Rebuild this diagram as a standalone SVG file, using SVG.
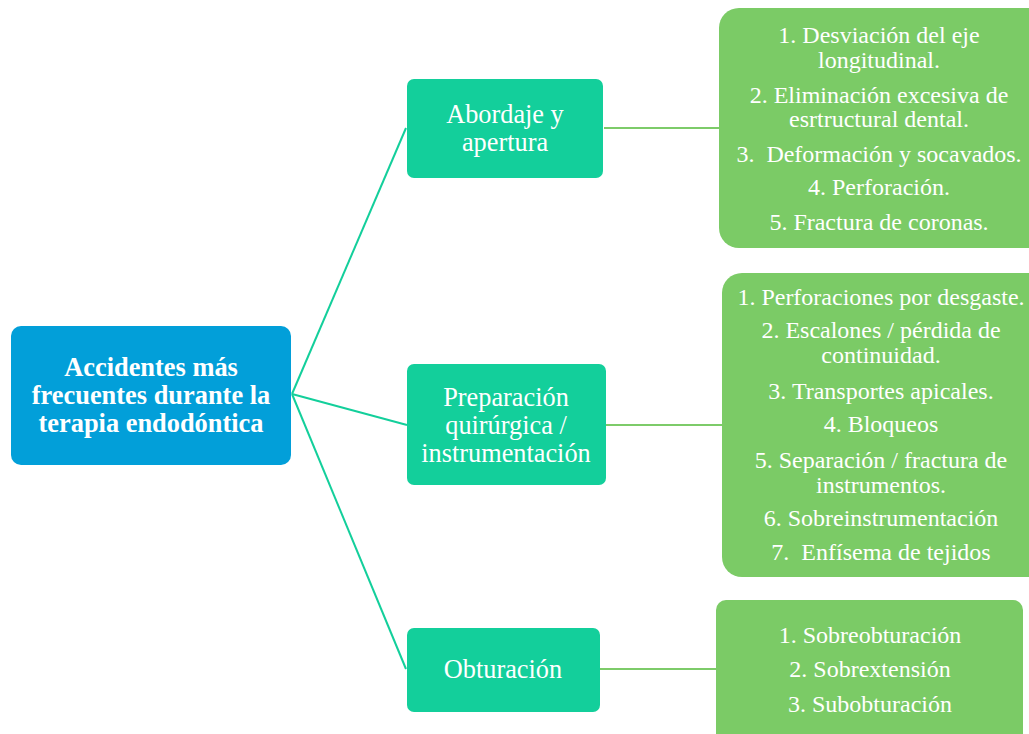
<svg xmlns="http://www.w3.org/2000/svg" width="1029" height="734" viewBox="0 0 1029 734">
<style>
.root{fill:#029FD9}
.mid{fill:#13CF9B}
.leaf{fill:#7BCB66}
.t{font-family:'Liberation Serif','DejaVu Serif',serif;fill:#fff;text-anchor:middle}
.tr{font-size:26.4px;font-weight:bold}
.tm{font-size:26.3px}
.tl{font-size:24px}
.c1{stroke:#13CF9B;stroke-width:2;fill:none}
.c2{stroke:#7DCB69;stroke-width:2;fill:none}
</style>
<rect width="1029" height="734" fill="#fff"/>
<g id="connectors">
<line class="c1" x1="292" y1="394" x2="406" y2="128"/>
<line class="c1" x1="292" y1="394" x2="407" y2="425"/>
<line class="c1" x1="292" y1="394" x2="406" y2="669"/>
<line class="c2" x1="604" y1="128" x2="719" y2="128"/>
<line class="c2" x1="606" y1="425" x2="722" y2="425"/>
<line class="c2" x1="600" y1="669" x2="716" y2="669"/>
</g>
<g id="root">
<rect class="root" x="11" y="326" width="280" height="139" rx="10"/>
<text class="t tr" x="151" y="376">Accidentes más</text>
<text class="t tr" x="151" y="404">frecuentes durante la</text>
<text class="t tr" x="151" y="432">terapia endodóntica</text>
</g>
<g id="n-abordaje">
<rect class="mid" x="407" y="79" width="196" height="99" rx="7"/>
<text class="t tm" x="505" y="123">Abordaje y</text>
<text class="t tm" x="505" y="151">apertura</text>
</g>
<g id="n-preparacion">
<rect class="mid" x="407" y="364" width="199" height="121" rx="7"/>
<text class="t tm" x="506" y="406">Preparación</text>
<text class="t tm" x="506" y="434">quirúrgica /</text>
<text class="t tm" x="506" y="462">instrumentación</text>
</g>
<g id="n-obturacion">
<rect class="mid" x="407" y="628" width="193" height="84" rx="7"/>
<text class="t tm" x="503" y="678">Obturación</text>
</g>
<g id="l-abordaje">
<rect class="leaf" x="719" y="8" width="330" height="240" rx="20"/>
<text class="t tl" x="879" y="43">1. Desviación del eje</text>
<text class="t tl" x="879" y="68">longitudinal.</text>
<text class="t tl" x="879" y="103">2. Eliminación excesiva de</text>
<text class="t tl" x="879" y="127">esrtructural dental.</text>
<text class="t tl" x="879" y="162" xml:space="preserve">3.  Deformación y socavados.</text>
<text class="t tl" x="879" y="195">4. Perforación.</text>
<text class="t tl" x="879" y="230">5. Fractura de coronas.</text>
</g>
<g id="l-preparacion">
<rect class="leaf" x="722" y="273" width="330" height="304" rx="20"/>
<text class="t tl" x="881" y="305">1. Perforaciones por desgaste.</text>
<text class="t tl" x="881" y="338">2. Escalones / pérdida de</text>
<text class="t tl" x="881" y="363">continuidad.</text>
<text class="t tl" x="881" y="399">3. Transportes apicales.</text>
<text class="t tl" x="881" y="432">4. Bloqueos</text>
<text class="t tl" x="881" y="468">5. Separación / fractura de</text>
<text class="t tl" x="881" y="493">instrumentos.</text>
<text class="t tl" x="881" y="526">6. Sobreinstrumentación</text>
<text class="t tl" x="881" y="560" xml:space="preserve">7.  Enfísema de tejidos</text>
</g>
<g id="l-obturacion">
<rect class="leaf" x="716" y="600" width="307" height="145" rx="10"/>
<text class="t tl" x="870" y="643">1. Sobreobturación</text>
<text class="t tl" x="870" y="677">2. Sobrextensión</text>
<text class="t tl" x="870" y="712">3. Subobturación</text>
</g>
</svg>
